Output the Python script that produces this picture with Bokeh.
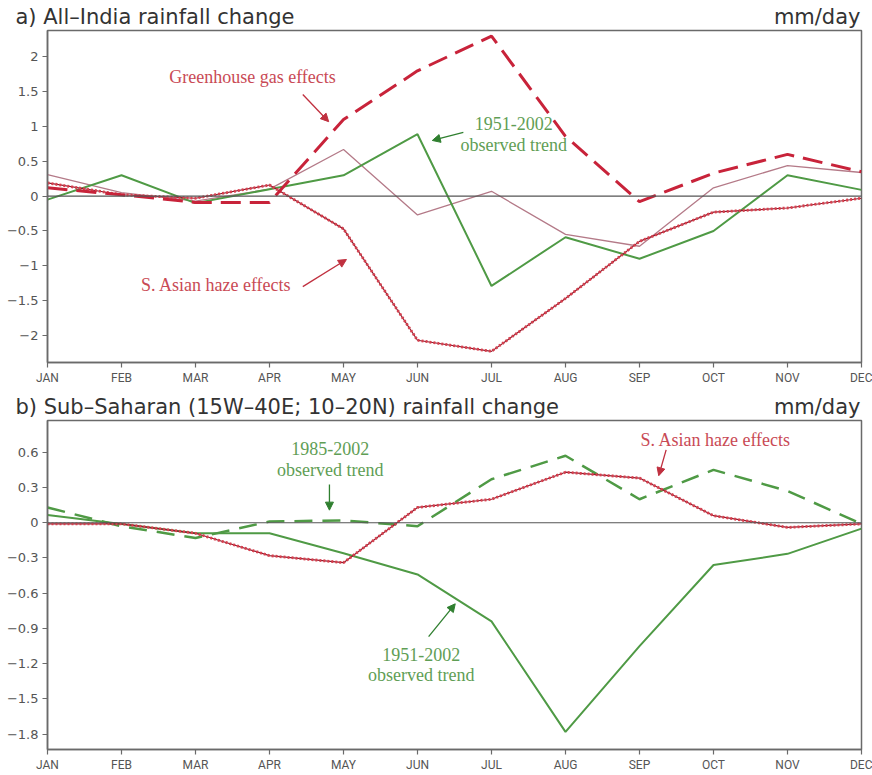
from bokeh.plotting import figure
from bokeh.models import (ColumnDataSource, FixedTicker, Span, Label, Arrow,
                          NormalHead, Range1d)
from bokeh.core.properties import value
from bokeh.layouts import column
from bokeh.embed import file_html
from bokeh.resources import INLINE

# ---------------- data ----------------
months = ["JAN", "FEB", "MAR", "APR", "MAY", "JUN",
          "JUL", "AUG", "SEP", "OCT", "NOV", "DEC"]
month_idx = list(range(12))

# Panel a) All-India rainfall change (mm/day)
india_ghg = [0.12, 0.02, -0.09, -0.09, 1.10, 1.80, 2.30, 0.86, -0.08, 0.33, 0.60, 0.35]
india_haze = [0.19, 0.02, -0.03, 0.16, -0.47, -2.07, -2.23, -1.47, -0.65, -0.23, -0.17, -0.03]
india_obs_1951 = [-0.05, 0.30, -0.10, 0.10, 0.30, 0.89, -1.29, -0.59, -0.90, -0.50, 0.30, 0.09]
india_combined = [0.31, 0.05, -0.07, 0.10, 0.67, -0.27, 0.07, -0.55, -0.72, 0.12, 0.44, 0.34]

# Panel b) Sub-Saharan rainfall change (mm/day)
sahel_haze = [-0.01, -0.01, -0.09, -0.28, -0.34, 0.13, 0.20, 0.43, 0.38, 0.06, -0.04, -0.01]
sahel_obs_1985 = [0.13, -0.03, -0.13, 0.01, 0.02, -0.03, 0.37, 0.57, 0.20, 0.45, 0.27, -0.01]
sahel_obs_1951 = [0.065, -0.01, -0.09, -0.09, -0.26, -0.44, -0.84, -1.78, -1.05, -0.36, -0.265, -0.05]

india_yticks = [-2, -1.5, -1, -0.5, 0, 0.5, 1, 1.5, 2]
india_ylabels = ["\u22122", "\u22121.5", "\u22121", "\u22120.5", "0", "0.5", "1", "1.5", "2"]
sahel_yticks = [-1.8, -1.5, -1.2, -0.9, -0.6, -0.3, 0, 0.3, 0.6]
sahel_ylabels = ["\u22121.8", "\u22121.5", "\u22121.2", "\u22120.9", "\u22120.6", "\u22120.3", "0", "0.3", "0.6"]

title_a = "a) All\u2013India rainfall change"
title_b = "b) Sub\u2013Saharan (15W\u201340E; 10\u201320N) rainfall change"
unit_text = "mm/day"

# ---------------- styles ----------------
W = 872
HEADER_H = 29
RED = "#c8233a"
RED_TXT = "#c94a55"
GREEN = "#4f9a45"
GREEN_TXT = "#5f9e55"
PINK = "#b47a88"
FRAME = "#6a6a6a"
TITLE_FONT = "DejaVu Sans"
SERIF = "Liberation Serif"


def make_header(left_text):
    h = figure(width=W, height=HEADER_H, output_backend="svg", toolbar_location=None,
               x_range=Range1d(0, W), y_range=Range1d(0, HEADER_H),
               min_border_left=0, min_border_right=0, min_border_top=0,
               min_border_bottom=0)
    h.frame_align = False
    h.axis.visible = False
    h.grid.visible = False
    h.outline_line_color = None
    src = ColumnDataSource(dict(x=[15, 860], y=[12.5, 12.5], t=[left_text, unit_text],
                                a=["left", "right"]))
    h.text(x="x", y="y", text="t", text_align="a", source=src,
           text_font=value(TITLE_FONT), text_font_size="21px", text_color="#333333",
           text_baseline="middle")
    return h


def make_fig(height, ymin, ymax, border_bottom, yticks, ylabels):
    p = figure(width=W, height=height, output_backend="svg", toolbar_location=None,
               x_range=Range1d(0, 11), y_range=Range1d(ymin, ymax),
               min_border_left=47, min_border_right=11,
               min_border_top=1, min_border_bottom=border_bottom)
    p.grid.visible = False
    p.outline_line_color = FRAME
    p.outline_line_width = 1.5
    p.background_fill_color = "white"
    p.border_fill_color = "white"

    p.xaxis.ticker = FixedTicker(ticks=month_idx)
    p.xaxis.major_label_overrides = {i: m for i, m in zip(month_idx, months)}
    p.xaxis.major_label_text_font = "Roboto"
    p.xaxis.major_label_text_font_size = "12px"
    p.xaxis.major_label_text_color = "#555555"
    p.xaxis.major_label_standoff = 3

    p.yaxis.ticker = FixedTicker(ticks=yticks)
    p.yaxis.major_label_overrides = {t: l for t, l in zip(yticks, ylabels)}
    p.yaxis.major_label_text_font = "DejaVu Sans"
    p.yaxis.major_label_text_font_size = "13px"
    p.yaxis.major_label_text_color = "#555555"
    p.yaxis.major_label_standoff = 4

    for ax in (p.xaxis, p.yaxis):
        ax.axis_line_color = FRAME
        ax.axis_line_width = 1.5
        ax.major_tick_line_color = FRAME
        ax.major_tick_line_width = 1.2
        ax.major_tick_out = 5
        ax.major_tick_in = 0
        ax.minor_tick_line_color = None

    p.add_layout(Span(location=0, dimension="width", line_color="#555555", line_width=1.2))
    return p


def note(p, x, y, text, color):
    p.add_layout(Label(x=x, y=y, text=text, text_font=SERIF, text_font_size="18px",
                       text_color=color, text_align="center", text_baseline="middle"))


def arrow(p, x0, y0, x1, y1, color):
    p.add_layout(Arrow(x_start=x0, y_start=y0, x_end=x1, y_end=y1,
                       line_color=color, line_width=1.3,
                       end=NormalHead(size=8, fill_color=color, line_color=color)))


# ---------------- panel a ----------------
ha = make_header(title_a)
pa = make_fig(361, -2.39, 2.38, 28, india_yticks, india_ylabels)
src_a = ColumnDataSource(dict(x=month_idx, ghg=india_ghg, haze=india_haze,
                              obs=india_obs_1951, comb=india_combined))
pa.line("x", "comb", source=src_a, line_color=PINK, line_width=1.3)
pa.line("x", "obs", source=src_a, line_color=GREEN, line_width=2)
pa.line("x", "haze", source=src_a, line_color="#8e1b2c", line_width=1.2)
pa.line("x", "haze", source=src_a, line_color="#d8404f", line_width=2.8, line_dash="2 2")
pa.line("x", "ghg", source=src_a, line_color=RED, line_width=3, line_dash="20 9")

note(pa, 2.77, 1.71, "Greenhouse gas effects", RED_TXT)
arrow(pa, 3.45, 1.46, 3.80, 1.07, "#c0303f")
note(pa, 6.30, 1.045, "1951-2002", GREEN_TXT)
note(pa, 6.30, 0.74, "observed trend", GREEN_TXT)
arrow(pa, 5.62, 0.915, 5.20, 0.80, "#2f7f2f")
note(pa, 2.28, -1.28, "S. Asian haze effects", RED_TXT)
arrow(pa, 3.45, -1.30, 4.04, -0.91, "#c0303f")

# ---------------- panel b ----------------
hb = make_header(title_b)
pb = make_fig(355, -1.93, 0.87, 20, sahel_yticks, sahel_ylabels)
src_b = ColumnDataSource(dict(x=month_idx, haze=sahel_haze,
                              o85=sahel_obs_1985, o51=sahel_obs_1951))
pb.line("x", "o51", source=src_b, line_color=GREEN, line_width=2)
pb.line("x", "o85", source=src_b, line_color=GREEN, line_width=2.5, line_dash="18 10")
pb.line("x", "haze", source=src_b, line_color="#8e1b2c", line_width=1.2)
pb.line("x", "haze", source=src_b, line_color="#d8404f", line_width=2.8, line_dash="2 2")

note(pb, 3.82, 0.63, "1985-2002", GREEN_TXT)
note(pb, 3.82, 0.45, "observed trend", GREEN_TXT)
arrow(pb, 3.81, 0.325, 3.81, 0.107, "#2f7f2f")
note(pb, 5.05, -1.12, "1951-2002", GREEN_TXT)
note(pb, 5.05, -1.30, "observed trend", GREEN_TXT)
arrow(pb, 5.15, -0.97, 5.51, -0.69, "#2f7f2f")
note(pb, 9.03, 0.70, "S. Asian haze effects", RED_TXT)
arrow(pb, 8.36, 0.62, 8.26, 0.40, "#c0303f")

layout = column(ha, pa, hb, pb, spacing=0)
open("out.html", "w").write(file_html(layout, INLINE))
